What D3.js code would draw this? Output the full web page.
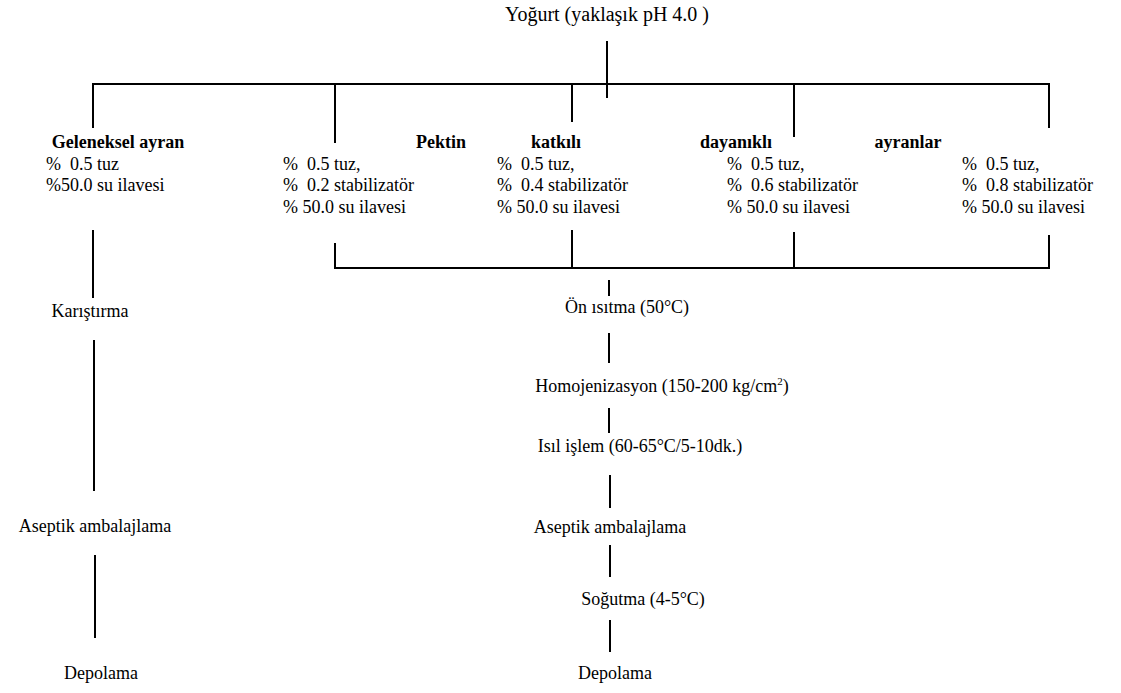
<!DOCTYPE html>
<html>
<head>
<meta charset="UTF-8">
<title>Ayran akış şeması</title>
<script src="https://d3js.org/d3.v7.min.js"></script>
<style>
  body { margin: 0; background: #fff; }
</style>
</head>
<body>
<svg id="svg" width="1121" height="693" font-family="Liberation Serif, DejaVu Serif, serif"></svg>
<script>
// --- content ---
var title = "Yoğurt (yaklaşık pH 4.0 )";
var heads = ["Geleneksel ayran", "Pektin", "katkılı", "dayanıklı", "ayranlar"];
var salt = [0.5, 0.5, 0.5, 0.5, 0.5];
var stab = [null, 0.2, 0.4, 0.6, 0.8];
var water = [50.0, 50.0, 50.0, 50.0, 50.0];
var leftSteps = ["Karıştırma", "Aseptik ambalajlama", "Depolama"];
var mainSteps = ["Ön ısıtma (50°C)", "Homojenizasyon (150-200 kg/cm", "Isıl işlem (60-65°C/5-10dk.)",
                 "Aseptik ambalajlama", "Soğutma (4-5°C)", "Depolama"];

// --- layout (pixels) ---
var headX = [118, 441, 556, 736, 908];     // centre of bold heads
var recX = [46, 283, 497, 727, 962];       // left of recipe lines
var dropX = [93, 335, 572, 794, 1049];     // branches off top bar
var rowY = [148, 170, 191, 213];
var mainY = [313, 392, 452, 533, 605, 679];
var mainCx = [627, 662, 640, 610, 643, 615];
var leftY = [317, 532, 679];
var leftCx = [90, 95, 101];

var svg = d3.select("svg");
var fs = 18;

function line(x1, y1, x2, y2, w) {
  svg.append("line").attr("x1", x1).attr("y1", y1).attr("x2", x2).attr("y2", y2)
    .style("stroke", "#000").style("stroke-width", w || 2);
}

svg.append("text").attr("x", 607).attr("y", 21).attr("text-anchor", "middle")
  .style("font-size", "20px").text(title);

// top bar
var barY = 84;
line(607, 41, 607, 98);
line(dropX[0] - 1, barY, dropX[4] + 1, barY);
var dropEnd = [128, 143, 122, 137, 128];
dropX.forEach(function(x, i) { line(x, barY, x, dropEnd[i]); });

// heads
svg.selectAll("text.head").data(heads).enter().append("text")
  .attr("class", "head")
  .attr("x", function(d, i) { return headX[i]; })
  .attr("y", rowY[0])
  .attr("text-anchor", "middle")
  .style("font-size", fs + "px").style("font-weight", "bold")
  .text(function(d) { return d; });

// recipe lines
heads.forEach(function(h, i) {
  var rows = [];
  if (i == 0) {
    rows.push("% " + salt[i].toFixed(1) + " tuz");
    rows.push("%" + water[i].toFixed(1) + " su ilavesi");
  } else {
    rows.push("% " + salt[i].toFixed(1) + " tuz,");
    rows.push("% " + stab[i].toFixed(1) + " stabilizatör");
    rows.push("% " + water[i].toFixed(1) + " su ilavesi");
  }
  rows.forEach(function(r, j) {
    svg.append("text").attr("x", recX[i]).attr("y", rowY[j + 1])
      .style("font-size", fs + "px").style("white-space", "pre")
      .text(r.replace("% 0", "%  0"));
  });
});

// lower bracket
var bracketY = 268;
var upStart = [243, 230, 232, 235];
dropX.slice(1).forEach(function(x, i) { line(x, upStart[i], x, bracketY); });
line(dropX[1] - 1, bracketY, dropX[4] + 1, bracketY);

// main column
var mainGaps = [[280, 296], [333, 363], [408, 433], [475, 508], [545, 577], [620, 652]];
mainGaps.forEach(function(g, i) { line(608 + (i > 2 ? 2 : 1), g[0], 608 + (i > 2 ? 2 : 1), g[1]); });
svg.selectAll("text.main").data(mainSteps).enter().append("text")
  .attr("class", "main")
  .attr("x", function(d, i) { return mainCx[i]; })
  .attr("y", function(d, i) { return mainY[i]; })
  .attr("text-anchor", "middle")
  .style("font-size", fs + "px")
  .each(function(d, i) {
    var t = d3.select(this);
    t.append("tspan").text(d);
    if (i == 1) {
      t.append("tspan").attr("dy", -7).style("font-size", "11px").text("2");
      t.append("tspan").attr("dy", 7).text(")");
    }
  });

// traditional column
var leftGaps = [[230, 298], [340, 491], [555, 638]];
leftGaps.forEach(function(g, i) { line(93 + i, g[0], 93 + i, g[1]); });
svg.selectAll("text.left").data(leftSteps).enter().append("text")
  .attr("class", "left")
  .attr("x", function(d, i) { return leftCx[i]; })
  .attr("y", function(d, i) { return leftY[i]; })
  .attr("text-anchor", "middle")
  .style("font-size", fs + "px")
  .text(function(d) { return d; });
</script>
</body>
</html>
